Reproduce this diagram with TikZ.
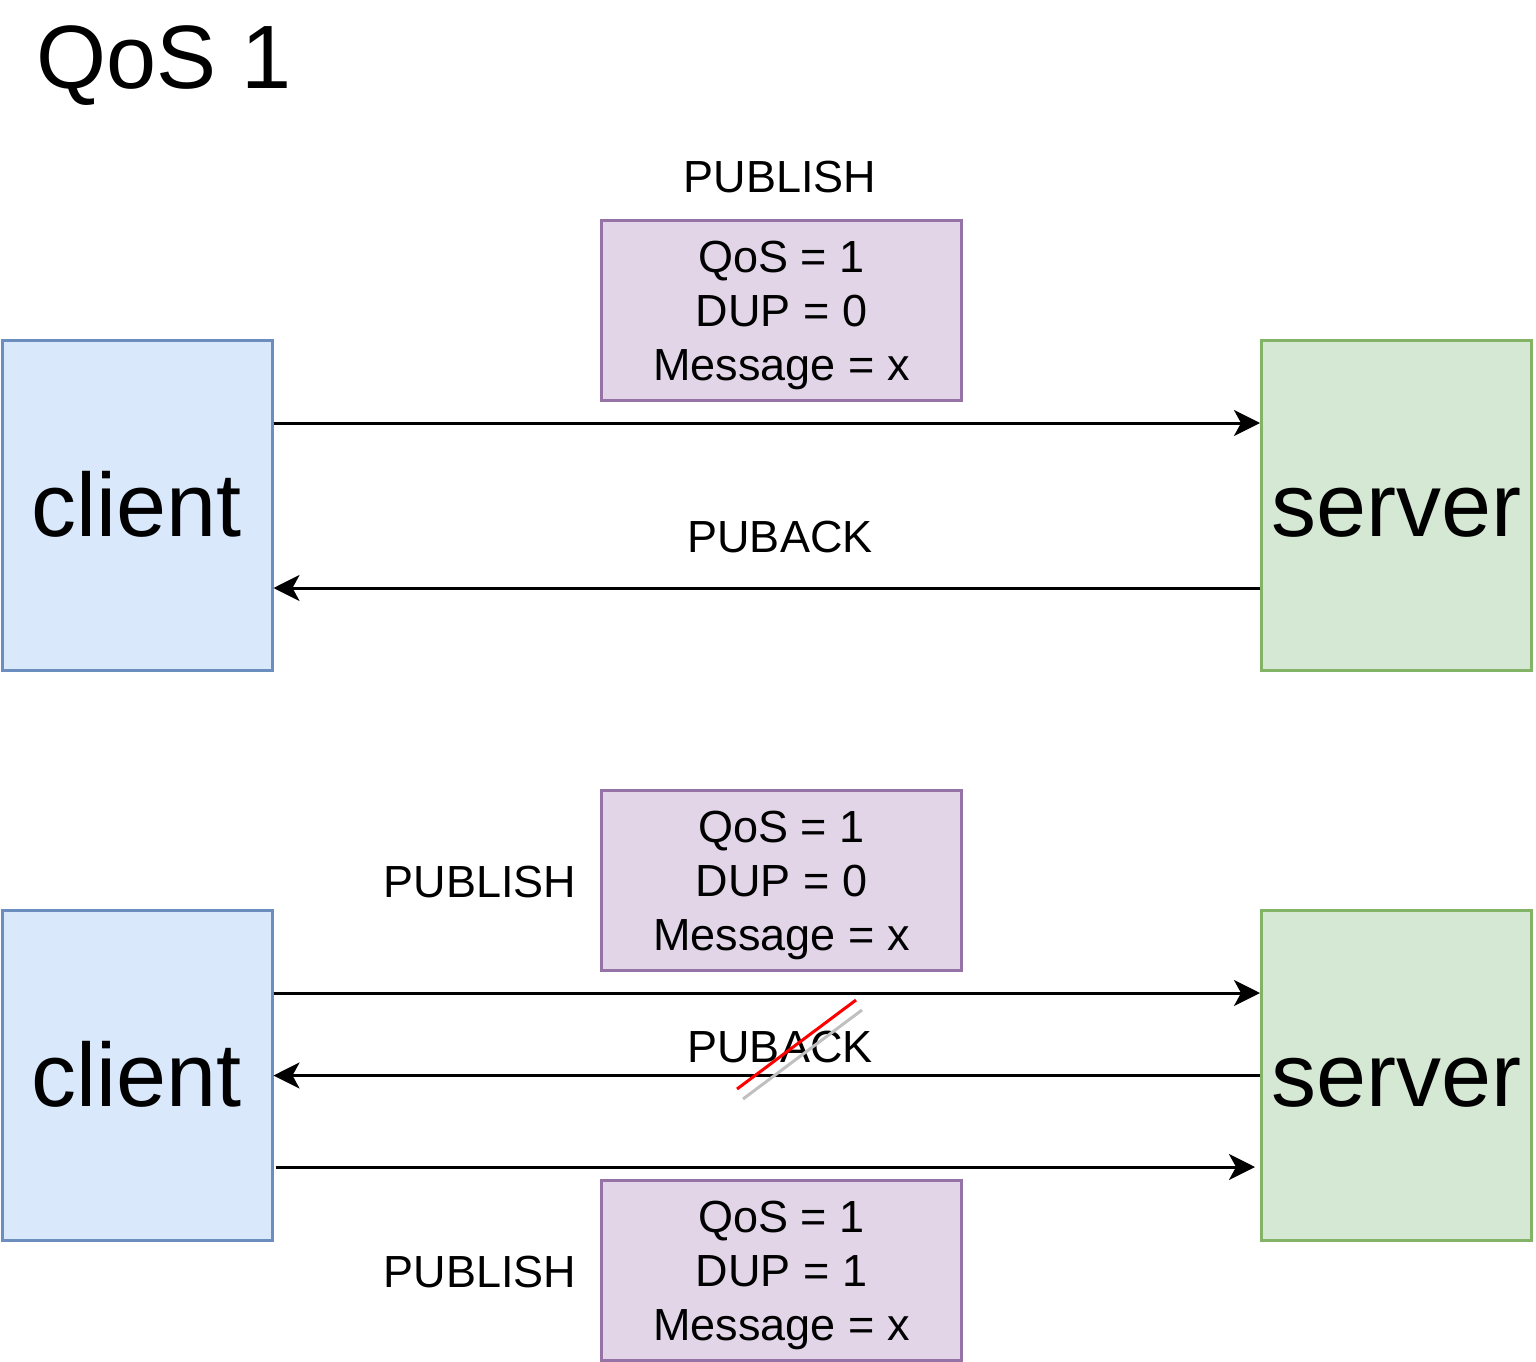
\documentclass[tikz,border=0pt]{standalone}
\usepackage{fontspec}
\setmainfont{Liberation Sans}
\usetikzlibrary{arrows.meta}
\definecolor{bluefill}{HTML}{DAE8FC}
\definecolor{bluedraw}{HTML}{6C8EBF}
\definecolor{greenfill}{HTML}{D5E8D4}
\definecolor{greendraw}{HTML}{82B366}
\definecolor{purplefill}{HTML}{E1D5E7}
\definecolor{purpledraw}{HTML}{9673A6}
\definecolor{shadowgray}{HTML}{C0C0C0}
\newcommand{\firstln}{\rule{0pt}{0.9465em}}
\newcommand{\lastln}{\rule[-0.2535em]{0pt}{0pt}}
\tikzset{
  big/.style={font=\fontsize{90}{108}\selectfont, text height=85.2pt, text depth=22.8pt},
  clientbox/.style={draw=bluedraw, fill=bluefill, line width=3pt, minimum width=270pt, minimum height=330pt, inner sep=0pt, big},
  serverbox/.style={draw=greendraw, fill=greenfill, line width=3pt, minimum width=270pt, minimum height=330pt, inner sep=0pt, big},
  msgbox/.style={draw=purpledraw, fill=purplefill, line width=3pt, minimum width=360pt, minimum height=180pt, inner sep=0pt, align=center, font=\fontsize{45}{54}\selectfont},
  lbl/.style={font=\fontsize{45}{54}\selectfont, text height=42.6pt, text depth=11.4pt, inner sep=0pt},
  msg/.style={line width=3pt, -{Stealth[length=26pt, width=26pt, inset=7pt]}},
}
\begin{document}
\begin{tikzpicture}[x=1pt, y=-1pt]
\useasboundingbox (0,0) rectangle (1536,1362);
% title
\node[big, inner sep=0pt, anchor=west] (title) at (36,57) {QoS 1};

% upper scenario
\node[clientbox] (c1) at (137,505.5) {client};
\node[serverbox] (s1) at (1396.5,505.5) {server};
\node[msgbox] (m1) at (781.5,310.5) {\firstln QoS = 1\\DUP = 0\\Message = x\lastln};
\node[lbl] (p1) at (780,177) {PUBLISH};
\node[lbl] (a1) at (780,537) {PUBACK};
\draw[msg] ([yshift=82.5pt]c1.east) -- ([yshift=82.5pt]s1.west);
\draw[msg] ([yshift=-82.5pt]s1.west) -- ([yshift=-82.5pt]c1.east);

% lower scenario
\node[clientbox] (c2) at (137,1075.5) {client};
\node[serverbox] (s2) at (1396.5,1075.5) {server};
\node[msgbox] (m2) at (781.5,880.5) {\firstln QoS = 1\\DUP = 0\\Message = x\lastln};
\node[msgbox] (m3) at (781.5,1270.5) {\firstln QoS = 1\\DUP = 1\\Message = x\lastln};
\node[lbl] (p2) at (480,882) {PUBLISH};
\node[lbl] (p3) at (480,1272) {PUBLISH};
\node[lbl] (a2) at (780,1047) {PUBACK};
\draw[msg] ([yshift=82.5pt]c2.east) -- ([yshift=82.5pt]s2.west);
\draw[msg] (s2.west) -- (c2.east);
\draw[msg] ([xshift=2pt,yshift=-91.5pt]c2.east) -- ([xshift=-5pt,yshift=-91.5pt]s2.west);

% crossed-out PUBACK
\coordinate (r1) at (737,1089);
\coordinate (r2) at (856,1000);
\coordinate (g1) at (743,1099);
\coordinate (g2) at (862,1010);
\draw[shadowgray, line width=3pt] (g1) -- (g2);
\draw[red, line width=3pt] (r1) -- (r2);
\end{tikzpicture}
\end{document}
